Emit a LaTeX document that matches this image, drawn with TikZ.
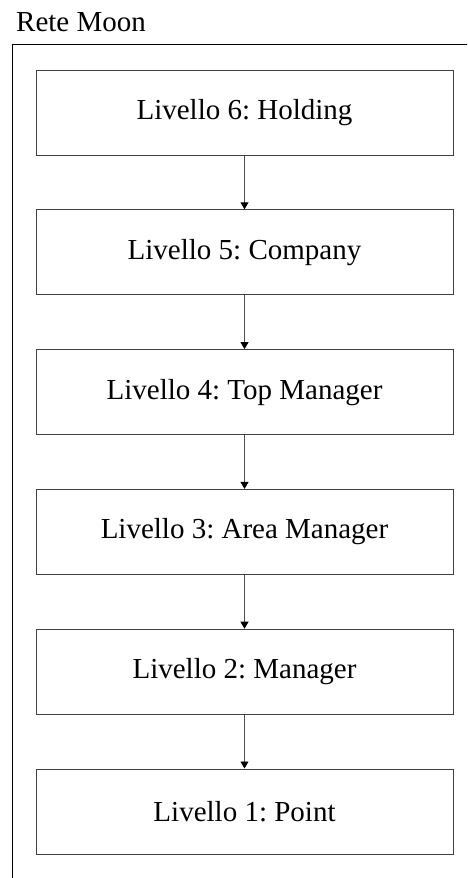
\documentclass[tikz,border=0pt]{standalone}
\usepackage{fontspec}
\setmainfont{Liberation Serif}
\usetikzlibrary{arrows.meta}
\definecolor{boxline}{HTML}{404040}
\definecolor{arrline}{HTML}{505050}
\frenchspacing
\begin{document}
\begin{tikzpicture}[x=1pt,y=1pt,
  level/.style={draw=boxline, line width=1pt, minimum width=417pt, minimum height=85pt,
    inner sep=0pt, font=\fontsize{29}{34}\selectfont},
  conn/.style={draw=arrline, line width=0.9pt, -{Triangle[length=7pt,width=8pt,color=black]}}]
\useasboundingbox (0,0) rectangle (467,-878);
\clip (0,0) rectangle (467,-878);
\draw[line width=1pt] (12,-44) rectangle (520,-920);
\node[anchor=base west, inner sep=0pt, font=\fontsize{29}{34}\selectfont] (title) at (16,-31.7) {Rete Moon};
\node[level] (l6) at (244.5,-112.5) {Livello 6: Holding};
\node[level] (l5) at (244.5,-252.3) {Livello 5: Company};
\node[level] (l4) at (244.5,-392.1) {Livello 4: Top Manager};
\node[level] (l3) at (244.5,-531.9) {Livello 3: Area Manager};
\node[level] (l2) at (244.5,-671.7) {Livello 2: Manager};
\node[level] (l1) at (244.5,-811.5) {Livello 1: Point};
\draw[conn] (l6) -- (l5);
\draw[conn] (l5) -- (l4);
\draw[conn] (l4) -- (l3);
\draw[conn] (l3) -- (l2);
\draw[conn] (l2) -- (l1);
\end{tikzpicture}
\end{document}
